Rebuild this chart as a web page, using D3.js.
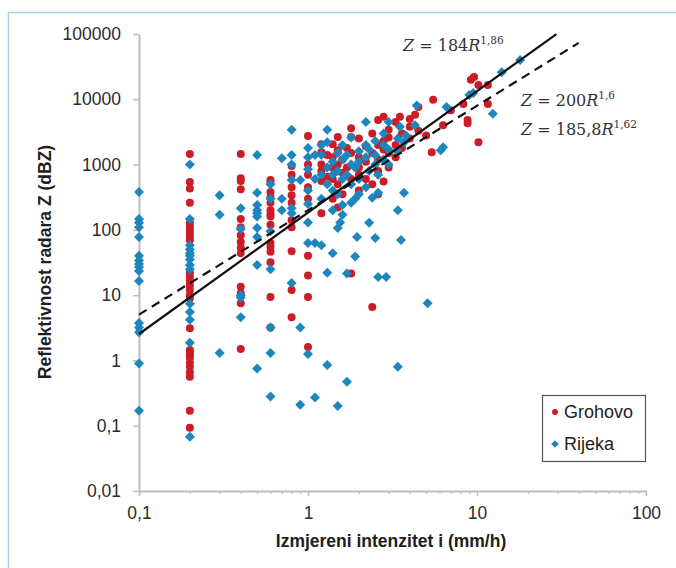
<!DOCTYPE html>
<html>
<head>
<meta charset="utf-8">
<script src="https://cdn.jsdelivr.net/npm/d3@7"></script>
<style>
  body { margin: 0; background: #fff; }
  svg { display: block; font-family: "Liberation Sans", Arial, sans-serif; }
</style>
</head>
<body>
<div id="chart"></div>
<script>
// tick values
const xTicks = [0.1, 1, 10, 100];
const yTicks = [0.01, 0.1, 1, 10, 100, 1000, 10000, 100000];

// measured intensity (mm/h), radar reflectivity Z
const grohovo = [
  [0.2,1450],[0.2,540],[0.2,430],[0.2,260],[0.2,128],[0.2,115],[0.2,100],[0.2,88],[0.2,78],[0.2,70],
  [0.2,22],[0.2,19],[0.2,16.5],[0.2,14],[0.2,12],[0.2,10],[0.2,9],[0.2,3.1],[0.2,1.45],[0.2,1.3],
  [0.2,1.2],[0.2,1.1],[0.2,0.92],[0.2,0.8],[0.2,0.66],[0.2,0.56],[0.2,0.17],[0.2,0.093],
  [0.4,1450],[0.4,620],[0.4,560],[0.4,420],[0.4,147],[0.4,110],[0.4,83],[0.4,65],[0.4,53],[0.4,44],
  [0.4,13.5],[0.4,10.7],[0.4,7.5],[0.4,1.5],
  [0.6,580],[0.6,520],[0.6,380],[0.6,320],[0.6,260],[0.6,200],[0.6,175],[0.6,160],[0.6,120],[0.6,63],
  [0.6,55],[0.6,46],[0.6,32],[0.6,9.4],[0.6,3.2],
  [0.8,950],[0.8,700],[0.8,450],[0.8,340],[0.8,260],[0.8,140],[0.8,110],[0.8,47],[0.8,12],[0.8,4.6],
  [1,2750],[1,1000],[1,700],[1,450],[1,300],[1,40],[1,20],[1,9.4],[1,1.6],
  [1.2,2050],[1.2,1550],[1.2,1000],[1.2,800],[1.2,560],[1.2,180],
  [1.3,1400],[1.3,650],
  [1.4,2050],[1.4,1300],[1.4,900],[1.4,600],[1.4,300],
  [1.5,2650],[1.5,1650],[1.5,1000],[1.5,500],[1.5,220],
  [1.6,1200],[1.6,750],[1.6,350],
  [1.7,1800],[1.7,900],
  [1.8,3600],[1.8,2650],[1.8,1500],[1.8,600],[1.8,21.5],
  [2,2500],[2,1300],[2,900],[2,700],[2,400],
  [2.2,1900],[2.2,1100],[2.2,600],
  [2.4,3000],[2.4,1500],[2.4,500],[2.4,6.6],
  [2.6,4800],[2.6,2000],[2.6,1200],[2.6,800],[2.6,350],
  [2.8,5400],[2.8,2300],[2.8,1700],[2.8,550],
  [3,3400],[3,2600],[3,1500],[3,900],
  [3.3,4500],[3.3,2000],[3.3,1300],
  [3.5,5400],[3.6,3000],[3.6,1800],
  [4,5000],[4,3800],[4,2500],
  [4.3,5800],[4.5,7600],[4.5,3300],
  [5,2800],[5.4,1550],[5.5,9800],[6.3,4000],[7,6800],[8.3,8500],[8.8,4800],[8.8,4300],
  [9.2,20000],[9.6,22000],[10.2,16500],[11.6,16500],[11.6,8500],[10.2,2200]
];

const rijeka = [
  [0.1,380],[0.1,147],[0.1,128],[0.1,110],[0.1,78],[0.1,40],[0.1,34],[0.1,30],[0.1,27],[0.1,23.5],
  [0.1,16.5],[0.1,3.75],[0.1,3.2],[0.1,2.7],[0.1,0.9],[0.1,0.17],
  [0.2,1000],[0.2,147],[0.2,58],[0.2,50],[0.2,44],[0.2,40],[0.2,35],[0.2,29],[0.2,25],[0.2,7.4],
  [0.2,5.5],[0.2,4.2],[0.2,1.86],[0.2,0.068],
  [0.3,340],[0.3,170],[0.3,1.3],
  [0.4,215],[0.4,103],[0.4,10],[0.4,9.2],[0.4,4.6],
  [0.5,1400],[0.5,370],[0.5,240],[0.5,200],[0.5,180],[0.5,160],[0.5,107],[0.5,78],[0.5,29],[0.5,0.75],
  [0.6,500],[0.6,300],[0.6,95],[0.6,25],[0.6,3.2],[0.6,1.3],[0.6,0.28],
  [0.7,1250],[0.7,300],[0.7,200],
  [0.8,3400],[0.8,1400],[0.8,1000],[0.8,580],[0.8,215],[0.8,180],[0.8,15.4],
  [0.9,580],[0.9,3.2],[0.9,0.21],
  [1,1800],[1,1300],[1,850],[1,400],[1,250],[1,130],[1,63],[1,1.25],
  [1.1,1400],[1.1,600],[1.1,63],[1.1,0.27],
  [1.2,2000],[1.2,1400],[1.2,700],[1.2,300],[1.2,58],
  [1.3,3400],[1.3,2200],[1.3,900],[1.3,500],[1.3,22],[1.3,0.85],
  [1.4,1100],[1.4,700],[1.4,400],[1.4,200],[1.4,44],
  [1.5,1500],[1.5,800],[1.5,350],[1.5,107],[1.5,0.2],
  [1.55,130],[1.6,2000],[1.6,1200],[1.6,600],[1.6,240],[1.6,170],
  [1.7,1400],[1.7,700],[1.7,21.5],[1.7,0.47],
  [1.8,2600],[1.8,1000],[1.8,500],[1.8,260],
  [1.9,900],[1.9,300],[1.9,39],[1.95,78],
  [2,1600],[2,1100],[2,600],[2,350],
  [2.2,4500],[2.2,2000],[2.2,1300],[2.2,450],
  [2.3,1700],[2.3,800],[2.3,128],
  [2.4,310],
  [2.5,2300],[2.5,1400],[2.5,1000],[2.5,75],
  [2.6,700],[2.6,370],[2.6,19],
  [2.8,3000],[2.8,2000],[2.8,1200],
  [2.9,19],
  [3,4500],[3,1700],[3,1000],
  [3.4,2500],[3.4,1600],[3.4,200],[3.4,0.8],
  [3.5,3800],[3.55,70],[3.7,2200],[3.7,370],[3.8,2800],
  [4.3,4000],[4.4,8000],[5.1,7.5],[6.1,1650],[6.3,1850],[6.6,7600],
  [9,11600],[9.5,12500],[12.4,6000],[14,26000],[18,40000]
];

// Z = a * R^b fits, drawn from 0.1 to the end value
const fitSolid = {a: 184, b: 1.86, xEnd: 29.5};
const fitDashed = {a: 200, b: 1.6, xEnd: 40};

const seriesNames = ["Grohovo", "Rijeka"];

const width = 676, height = 568;
const svg = d3.select("#chart").append("svg")
  .attr("width", width)
  .attr("height", height);

// light frame around the figure
svg.append("rect")
  .attr("x", 8.5).attr("y", 12.5)
  .attr("width", 700).attr("height", 600)
  .attr("fill", "none")
  .attr("stroke", "#a3d6e0")
  .attr("stroke-width", 1.5);

const x = d3.scaleLog().domain([0.1, 100]).range([139, 646]);
const y = d3.scaleLog().domain([0.01, 100000]).range([491, 34]);

const fmt = d => String(d).replace(".", ",");
const axisColor = "#bdbdbd";

// y axis
const gy = svg.append("g")
  .attr("transform", "translate(139,0)")
  .call(d3.axisLeft(y).tickValues(yTicks).tickFormat(fmt).tickSize(6).tickPadding(12).tickSizeOuter(0));
gy.select(".domain").attr("stroke", axisColor).attr("stroke-width", 2);
gy.selectAll(".tick line").attr("stroke", axisColor).attr("stroke-width", 1.5);
gy.selectAll(".tick text").attr("font-size", 17.5).attr("fill", "#2b2b2b")
  .attr("font-family", "Liberation Sans, Arial, sans-serif");

// x axis: minor ticks first
const minor = [];
[0.1, 1, 10].forEach(d => { for (let k = 2; k <= 9; k++) minor.push(d * k); });
const gxm = svg.append("g")
  .attr("transform", "translate(0,491)")
  .call(d3.axisBottom(x).tickValues(minor).tickFormat("").tickSize(3).tickSizeOuter(0));
gxm.select(".domain").remove();
gxm.selectAll(".tick line").attr("stroke", axisColor).attr("stroke-width", 1);

const gx = svg.append("g")
  .attr("transform", "translate(0,491)")
  .call(d3.axisBottom(x).tickValues(xTicks).tickFormat(fmt).tickSize(5).tickPadding(11).tickSizeOuter(0));
gx.select(".domain").attr("stroke", axisColor).attr("stroke-width", 2);
gx.selectAll(".tick line").attr("stroke", axisColor).attr("stroke-width", 1.5);
gx.selectAll(".tick text").attr("font-size", 17.5).attr("fill", "#2b2b2b")
  .attr("font-family", "Liberation Sans, Arial, sans-serif");

// axis titles
svg.append("text")
  .attr("x", 391).attr("y", 547)
  .attr("text-anchor", "middle")
  .attr("font-size", 17.5).attr("font-weight", "bold").attr("fill", "#1e1e1e")
  .text("Izmjereni intenzitet i (mm/h)");

svg.append("text")
  .attr("transform", "translate(51,262) rotate(-90)")
  .attr("text-anchor", "middle")
  .attr("font-size", 17.5).attr("font-weight", "bold").attr("fill", "#1e1e1e")
  .text("Reflektivnost radara Z (dBZ)");

// points
const red = "#cc1d26", blue = "#1c87bf";
const diamond = r => `M0,${-r}L${r},0L0,${r}L${-r},0Z`;

svg.append("g").selectAll("circle")
  .data(grohovo)
  .join("circle")
  .attr("cx", d => x(d[0]))
  .attr("cy", d => y(d[1]))
  .attr("r", 4)
  .attr("fill", red);

svg.append("g").selectAll("path")
  .data(rijeka)
  .join("path")
  .attr("transform", d => `translate(${x(d[0])},${y(d[1])})`)
  .attr("d", diamond(5))
  .attr("fill", blue);

// fit lines
const line = d3.line().x(d => x(d[0])).y(d => y(d[1]));
const fitPoints = f => [0.1, f.xEnd].map(r => [r, f.a * Math.pow(r, f.b)]);

svg.append("path")
  .datum(fitPoints(fitDashed))
  .attr("d", line)
  .attr("fill", "none")
  .attr("stroke", "#111")
  .attr("stroke-width", 2.2)
  .attr("stroke-dasharray", "9,6");

svg.append("path")
  .datum(fitPoints(fitSolid))
  .attr("d", line)
  .attr("fill", "none")
  .attr("stroke", "#111")
  .attr("stroke-width", 2.2);

// equation labels
function equation(xp, yp, coef, exp) {
  const t = svg.append("text")
    .attr("x", xp).attr("y", yp)
    .attr("font-family", "DejaVu Serif, Liberation Serif, serif")
    .attr("font-size", 16).attr("fill", "#333");
  t.append("tspan").attr("font-style", "italic").text("Z");
  t.append("tspan").text(" = " + coef);
  t.append("tspan").attr("font-style", "italic").text("R");
  t.append("tspan").attr("font-size", 10.5).attr("dy", -7).text(exp);
}
equation(403, 51, "184", "1,86");
equation(521, 106, "200", "1,6");
equation(521, 135, "185,8", "1,62");

// legend
const lg = svg.append("g").attr("transform", "translate(542,395)");
lg.append("rect")
  .attr("x", 0.5).attr("y", 0.5)
  .attr("width", 103).attr("height", 66)
  .attr("fill", "#fff")
  .attr("stroke", "#555")
  .attr("stroke-width", 1.2);
lg.append("circle").attr("cx", 13).attr("cy", 17).attr("r", 3).attr("fill", red);
lg.append("path").attr("transform", "translate(13,49)").attr("d", diamond(3.8)).attr("fill", blue);
lg.selectAll("text.lab")
  .data(seriesNames)
  .join("text")
  .attr("class", "lab")
  .attr("x", 22)
  .attr("y", (d, i) => 23 + i * 32)
  .attr("font-size", 18)
  .attr("fill", "#222")
  .text(d => d);
</script>
</body>
</html>
